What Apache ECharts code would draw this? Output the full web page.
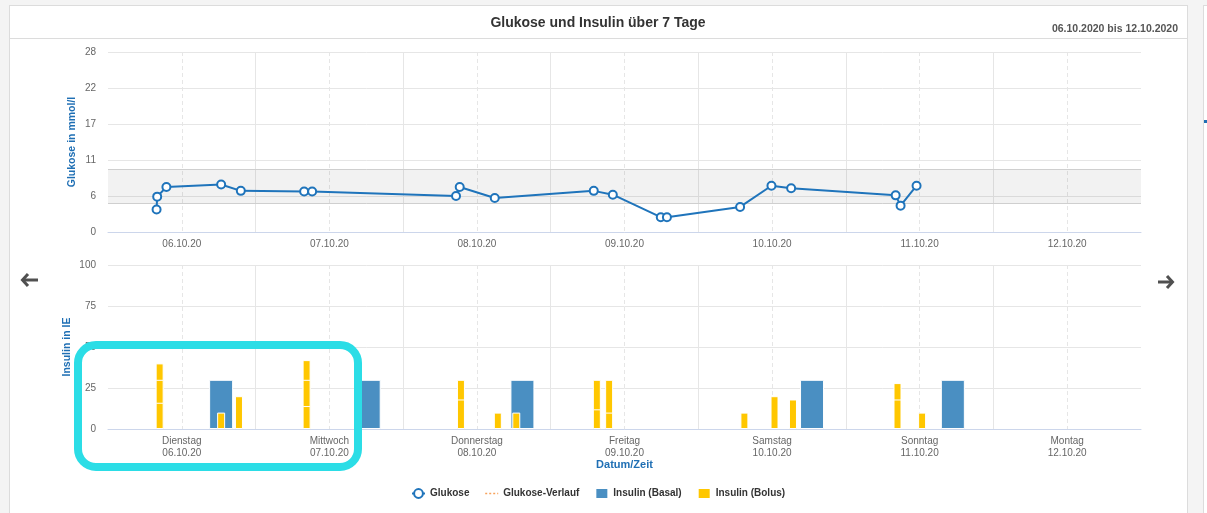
<!DOCTYPE html>
<html>
<head>
<meta charset="utf-8">
<title>Glukose und Insulin</title>
<script src="https://cdn.jsdelivr.net/npm/echarts@6/dist/echarts.min.js"></script>
<style>
    html, body { margin: 0; padding: 0; background: #f4f4f4; overflow: hidden; }
    .panel { position: absolute; left: 9px; top: 5px; width: 1179px; height: 520px; background: #fff; border: 1px solid #dcdcdc; box-sizing: border-box; }
    .head { position: absolute; left: 10px; top: 38px; width: 1177px; height: 0; border-top: 1px solid #dcdcdc; }
    .side { position: absolute; left: 1203px; top: 5px; width: 20px; height: 520px; background: #fff; border: 1px solid #dcdcdc; box-sizing: border-box; }
    .mark { position: absolute; left: 1204px; top: 120px; width: 3px; height: 3px; background: #1f6fb4; }
    #chart { position: absolute; left: 0; top: 0; width: 1207px; height: 513px; }
</style>
</head>
<body>
<div class="panel"></div>
<div class="head"></div>
<div class="side"></div>
<div class="mark"></div>
<div id="chart"></div>
<script>
// x values are hours since 06.10.2020 00:00
const dayNames = ["Dienstag", "Mittwoch", "Donnerstag", "Freitag", "Samstag", "Sonntag", "Montag"];
const dayDates = ["06.10.20", "07.10.20", "08.10.20", "09.10.20", "10.10.20", "11.10.20", "12.10.20"];

const glucoseHours = [7.9, 8.0, 9.5, 18.4, 21.6, 31.9, 33.2, 56.6, 57.2, 62.9, 79.0, 82.1, 89.9, 90.9, 102.8, 107.9, 111.1, 128.1, 128.9, 131.5];
const glucoseValues = [3.5, 5.5, 7.0, 7.4, 6.4, 6.3, 6.3, 5.6, 7.0, 5.3, 6.4, 5.8, 2.3, 2.3, 3.9, 7.2, 6.8, 5.7, 4.1, 7.2];
const targetRange = [4.5, 9.7];

const basalHours = [18.4, 42.4, 67.4, 114.5, 137.4];
const basalUnits = [30, 30, 30, 30, 30];

// bolus doses given at the same time, bottom part first
const bolusHours = [8.4, 18.4, 21.3, 32.3, 57.4, 63.4, 66.4, 79.5, 81.5, 103.5, 108.4, 111.4, 128.4, 132.4];
const bolusPart1 = [16, 10, 20, 14, 18, 10, 10, 12, 10, 10, 20, 18, 18, 10];
const bolusPart2 = [14, null, null, 16, 12, null, null, 18, 20, null, null, null, 10, null];
const bolusPart3 = [10, null, null, 12, null, null, null, null, null, null, null, null, null, null];

const font = "'Liberation Sans', Arial, sans-serif";
const gridColor = "#e6e6e6";
const blue = "#1f74bb";
const nameColor = "#1f6fb4";

function lineAxis(g) {
    return {
        type: "value", gridIndex: g, min: 0, max: 168, interval: 24, position: "bottom",
        axisLine: { show: true, lineStyle: { color: "#ccd6eb", width: 1 } },
        axisTick: { show: false },
        axisLabel: { show: false },
        splitLine: { show: true, showMinLine: false, showMaxLine: false, lineStyle: { color: gridColor, width: 1 } },
        minorTick: { show: false, splitNumber: 2 },
        minorSplitLine: { show: true, lineStyle: { color: gridColor, width: 1, type: [4, 3] } }
    };
}
function labelAxis(g, fmt, extra) {
    return Object.assign({
        type: "value", gridIndex: g, min: 0, max: 168, interval: 12, position: "bottom",
        axisLine: { show: false },
        axisTick: { show: false },
        splitLine: { show: false },
        axisLabel: {
            margin: 6, color: "#666", fontSize: 10, fontFamily: font, lineHeight: 12,
            showMinLabel: true, showMaxLabel: true,
            formatter: function (v) {
                return v % 24 === 12 ? fmt((v - 12) / 24) : "";
            }
        }
    }, extra || {});
}
function valueAxis(g, max, step, name, gap) {
    return {
        type: "value", gridIndex: g, min: 0, max: max, interval: step,
        name: name, nameLocation: "middle", nameGap: gap, nameMoveOverlap: false,
        nameTextStyle: { color: nameColor, fontWeight: "bold", fontSize: 10.5, fontFamily: font },
        axisLine: { show: false },
        axisTick: { show: false },
        axisLabel: { margin: 12, color: "#666", fontSize: 10, fontFamily: font, formatter: v => String(Math.round(v)) },
        splitLine: { show: true, lineStyle: { color: gridColor, width: 1 } }
    };
}

// running totals of the bolus parts; drawn tallest first so the white borders split the column
const bolusParts = [bolusPart1, bolusPart2, bolusPart3];
const bolusLevels = bolusParts.map((part, k) =>
    part.map((v, i) => {
        if (v == null) return null;
        let sum = 0;
        for (let j = 0; j <= k; j++) sum += bolusParts[j][i];
        return sum;
    })
);
function bolusSeries(level) {
    return {
        name: "Insulin (Bolus)", type: "bar", xAxisIndex: 3, yAxisIndex: 1,
        barWidth: 8, barGap: "-100%",
        itemStyle: { color: "#ffc700", borderColor: "#ffffff", borderWidth: 1 },
        data: bolusHours.map((h, i) => [h, level[i]])
    };
}

var myChart = echarts.init(document.getElementById("chart"));
var option = {
    animation: false,
    textStyle: { fontFamily: font },
    title: [
        {
            text: "Glukose und Insulin über 7 Tage", left: 598, top: 16, textAlign: "center", padding: 0,
            textStyle: { fontSize: 14, fontWeight: "bold", color: "#333", fontFamily: font }
        },
        {
            text: "06.10.2020 bis 12.10.2020", right: 29, top: 24, padding: 0,
            textStyle: { fontSize: 10.5, fontWeight: "bold", color: "#555", fontFamily: font }
        }
    ],
    legend: {
        left: 411, top: 487, padding: 0, itemWidth: 13, itemHeight: 11, itemGap: 15,
        textStyle: { fontSize: 10, fontWeight: "bold", color: "#333", fontFamily: font },
        data: [
            { name: "Glukose" },
            { name: "Glukose-Verlauf", itemStyle: { opacity: 0 }, lineStyle: { color: "#f7a35c", width: 1.5, type: [2, 2] } },
            { name: "Insulin (Basal)", icon: "rect" },
            { name: "Insulin (Bolus)", icon: "rect" }
        ]
    },
    grid: [
        { left: 108, right: 66, top: 52, height: 180, outerBoundsMode: "none" },
        { left: 108, right: 66, top: 265, height: 164, outerBoundsMode: "none" }
    ],
    xAxis: [
        lineAxis(0),
        labelAxis(0, i => dayDates[i]),
        lineAxis(1),
        labelAxis(1, i => dayNames[i] + "\n" + dayDates[i], {
            name: "Datum/Zeit", nameLocation: "middle", nameGap: 30, nameMoveOverlap: false,
            nameTextStyle: { color: nameColor, fontWeight: "bold", fontSize: 11, fontFamily: font }
        })
    ],
    yAxis: [
        valueAxis(0, 28, 5.6, "Glukose in mmol/l", 30),
        valueAxis(1, 100, 25, "Insulin in IE", 35)
    ],
    series: [
        {
            name: "Glukose", type: "line", xAxisIndex: 0, yAxisIndex: 0, z: 5,
            symbol: "circle", symbolSize: 8, showAllSymbol: true,
            lineStyle: { color: blue, width: 2 },
            itemStyle: { color: "#ffffff", borderColor: blue, borderWidth: 2 },
            data: glucoseHours.map((h, i) => [h, glucoseValues[i]]),
            markArea: {
                silent: true,
                itemStyle: { color: "rgba(0,0,0,0.05)" },
                data: [[{ yAxis: targetRange[0] }, { yAxis: targetRange[1] }]]
            },
            markLine: {
                silent: true, symbol: "none", label: { show: false },
                lineStyle: { color: "#cfcfcf", type: "solid", width: 1 },
                data: [{ yAxis: targetRange[0] }, { yAxis: targetRange[1] }]
            }
        },
        {
            name: "Glukose-Verlauf", type: "line", xAxisIndex: 0, yAxisIndex: 0,
            symbol: "none",
            lineStyle: { color: "#f7a35c", width: 1.5, type: [2, 2] },
            itemStyle: { color: "#f7a35c" },
            data: []
        },
        {
            name: "Insulin (Basal)", type: "bar", xAxisIndex: 2, yAxisIndex: 1,
            barWidth: 24,
            itemStyle: { color: "#4a8fc2", borderColor: "#ffffff", borderWidth: 1 },
            data: basalHours.map((h, i) => [h, basalUnits[i]])
        },
        bolusSeries(bolusLevels[2]),
        bolusSeries(bolusLevels[1]),
        bolusSeries(bolusLevels[0])
    ],
    graphic: [
        {
            type: "rect", z: 100, silent: true,
            shape: { x: 78, y: 345, width: 280, height: 122, r: 18 },
            style: { fill: "none", stroke: "#2bdde6", lineWidth: 8 }
        },
        { type: "polyline", silent: true, shape: { points: [[28, 274], [22.5, 280], [28, 286]] }, style: { stroke: "#505050", lineWidth: 3, fill: null } },
        { type: "line", silent: true, shape: { x1: 23, y1: 280, x2: 38, y2: 280 }, style: { stroke: "#505050", lineWidth: 3 } },
        { type: "polyline", silent: true, shape: { points: [[1167, 276], [1172.5, 282], [1167, 288]] }, style: { stroke: "#505050", lineWidth: 3, fill: null } },
        { type: "line", silent: true, shape: { x1: 1158, y1: 282, x2: 1172, y2: 282 }, style: { stroke: "#505050", lineWidth: 3 } }
    ]
};
option && myChart.setOption(option);
window.addEventListener("resize", function () {
    myChart.resize();
});
</script>
</body>
</html>
